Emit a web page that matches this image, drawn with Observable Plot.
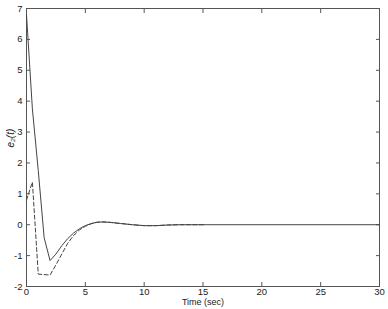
<!DOCTYPE html>
<html><head><meta charset="utf-8">
<script src="https://cdn.jsdelivr.net/npm/d3@7"></script>
<script src="https://cdn.jsdelivr.net/npm/@observablehq/plot@0.6"></script>
<style>body{margin:0;background:#fff}</style>
</head><body><div id="chart"></div>
<script>
const solidT = [0, 0.5, 1.0, 1.5, 2.0, 2.5, 3.0, 3.5, 4.0, 4.5, 5.0, 5.5, 6.0, 6.5, 7.0, 8.0, 9.0, 10.0, 11.0, 12.0, 13.0, 15.0, 30.0];
const solidV = [6.8, 3.75, 1.75, -0.42, -1.16, -0.95, -0.68, -0.45, -0.27, -0.13, -0.03, 0.04, 0.08, 0.09, 0.08, 0.04, 0.0, -0.03, -0.03, -0.01, 0.0, 0.0, 0.0];
const dashT = [0, 0.5, 1.0, 2.0, 2.5, 3.0, 3.5, 4.0, 4.5, 5.0, 5.5, 6.0, 6.5, 7.0, 8.0, 9.0, 10.0, 11.0, 12.0, 13.0, 15.2];
const dashV = [0.8, 1.38, -1.6, -1.63, -1.3, -0.95, -0.6, -0.35, -0.17, -0.05, 0.03, 0.08, 0.09, 0.08, 0.04, 0.0, -0.03, -0.03, -0.01, 0.0, 0.0];
const xTicks = [0, 5, 10, 15, 20, 25, 30];
const yTicks = [-2, -1, 0, 1, 2, 3, 4, 5, 6, 7];
const xLabel = "Time (sec)";
const yLabel = "e₂(t)";

const solid = solidT.map((t, i) => ({t, v: solidV[i]}));
const dashed = dashT.map((t, i) => ({t, v: dashV[i]}));
const fmt = d => String(d);

const chart = Plot.plot({
  width: 388, height: 309,
  marginLeft: 26, marginRight: 9, marginTop: 8, marginBottom: 23,
  style: {fontFamily: "Liberation Sans, Arial, sans-serif", fontSize: "9.5px", color: "#222", background: "#fff"},
  x: {domain: [0, 30]},
  y: {domain: [-2, 7]},
  marks: [
    Plot.frame({stroke: "#555"}),
    Plot.axisX({ticks: xTicks, tickSize: 0, tickPadding: 2, tickFormat: fmt, label: null}),
    Plot.axisX({ticks: xTicks, tickSize: -4, text: null, label: null, stroke: "#555"}),
    Plot.axisX({anchor: "top", ticks: xTicks, tickSize: -4, text: null, label: null, stroke: "#555"}),
    Plot.axisY({ticks: yTicks, tickSize: 0, tickPadding: 4, tickFormat: fmt, label: null}),
    Plot.axisY({ticks: yTicks, tickSize: -4, text: null, label: null, stroke: "#555"}),
    Plot.axisY({anchor: "right", ticks: yTicks, tickSize: -4, text: null, label: null, stroke: "#555"}),
    Plot.text([xLabel], {frameAnchor: "bottom", dy: 18, fontSize: 9}),
    Plot.text([yLabel], {frameAnchor: "left", dx: -16, rotate: -90, fontStyle: "italic", fontSize: 10}),
    Plot.line(solid, {x: "t", y: "v", stroke: "#444", strokeWidth: 1}),
    Plot.line(dashed, {x: "t", y: "v", stroke: "#444", strokeWidth: 1, strokeDasharray: "4,2.5"})
  ]
});
document.getElementById("chart").append(chart);
</script>
</body></html>
